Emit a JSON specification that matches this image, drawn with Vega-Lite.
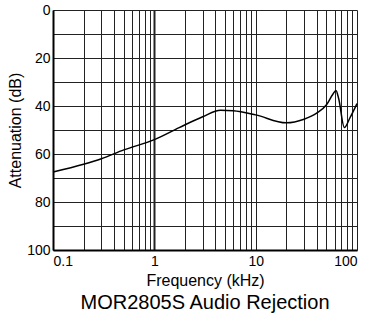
{
  "$schema": "https://vega.github.io/schema/vega-lite/v6.json",
  "width": 304,
  "height": 240,
  "autosize": {"type": "none"},
  "padding": {"left": 53, "top": 10, "right": 10, "bottom": 68},
  "background": "white",
  "title": {"text": "MOR2805S Audio Rejection", "orient": "bottom", "font": "Liberation Sans", "fontSize": 20, "fontWeight": "normal", "color": "black", "offset": 5},
  "config": {
    "view": {"stroke": null},
    "axis": {"labelFont": "Liberation Sans", "titleFont": "Liberation Sans", "labelColor": "black", "titleColor": "black", "titleFontWeight": "normal", "labelFontSize": 14, "titleFontSize": 16, "gridColor": "#222", "gridOpacity": 1, "ticks": false, "domainColor": "black", "domainWidth": 2}
  },
  "data": {"values": [
    {"f": 0.1, "db": 67.5},
    {"f": 0.2, "db": 64.3},
    {"f": 0.3, "db": 62},
    {"f": 0.5, "db": 58.3},
    {"f": 1, "db": 54},
    {"f": 1.76, "db": 49},
    {"f": 3, "db": 44.5},
    {"f": 4.5, "db": 41.8},
    {"f": 6, "db": 42},
    {"f": 10, "db": 43.7},
    {"f": 20, "db": 47},
    {"f": 30, "db": 45.5},
    {"f": 40, "db": 43},
    {"f": 50, "db": 39.5},
    {"f": 58, "db": 35},
    {"f": 62, "db": 33.5},
    {"f": 66, "db": 37},
    {"f": 75, "db": 49},
    {"f": 85, "db": 45},
    {"f": 100, "db": 39}
  ]},
  "mark": {"type": "line", "color": "black", "strokeWidth": 1.5, "interpolate": "monotone"},
  "encoding": {
    "x": {"field": "f", "type": "quantitative",
      "scale": {"type": "log", "domain": [0.1, 100]},
      "axis": {"title": "Frequency (kHz)", "titlePadding": 4, "labelPadding": 4, "format": "~g",
        "gridWidth": {"condition": {"test": "datum.value == 1", "value": 2}, "value": 1},
        "values": [0.1,0.2,0.3,0.4,0.5,0.6,0.7,0.8,0.9,1,2,3,4,5,6,7,8,9,10,20,30,40,50,60,70,80,90,100],
        "labelExpr": "indexof(['0.1','1','10','100'], datum.label) >= 0 ? datum.label : ''"}},
    "y": {"field": "db", "type": "quantitative",
      "scale": {"domain": [0, 100], "reverse": true},
      "axis": {"title": "Attenuation (dB)", "titlePadding": 3, "labelPadding": 3, "gridWidth": 1,
        "values": [0,10,20,30,40,50,60,70,80,90,100],
        "labelExpr": "datum.value % 20 == 0 ? datum.label : ''"}}
  }
}
